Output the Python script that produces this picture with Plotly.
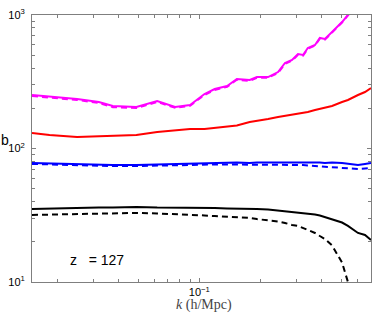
import plotly.graph_objects as go

# wavenumber k (h/Mpc)
k = [0.015, 0.0183, 0.025, 0.032, 0.0375, 0.049, 0.062, 0.076, 0.09, 0.106,
     0.119, 0.137, 0.153, 0.177, 0.192, 0.218, 0.244, 0.264, 0.286, 0.306,
     0.324, 0.342, 0.371, 0.392, 0.415, 0.45, 0.504, 0.539, 0.604, 0.654, 0.70]

magenta_solid = [252, 245, 235, 223, 208, 205, 227, 205, 212, 256,
                 279, 294, 332, 326, 343, 343, 374, 437, 460, 510,
                 502, 566, 596, 673, 661, 746, 886, 1000, 1230, 1410, 1590]
magenta_dash = [247, 241, 231, 219, 204, 201, 223, 202, 209, 252,
                274, 290, 327, 321, 338, 339, 368, 430, 455, 503,
                496, 558, 590, 665, 654, 738, 878, 995, 1220, 1400, 1580]
red_solid = [130.6, 126.2, 122.0, 123.0, 124.1, 126.2, 132.9, 136.4, 140.0, 140.0,
             142.4, 144.9, 148.7, 157.9, 160.7, 166.3, 172.2, 175.2, 178.2, 181.3,
             184.5, 187.7, 194.3, 197.7, 201.1, 208.2, 223.0, 230.8, 251.6, 265.0, 283.9]
blue_solid = [77.9, 77.2, 75.9, 75.9, 75.2, 75.2, 75.9, 76.6, 77.2, 77.9,
              77.9, 77.9, 78.6, 77.9, 78.6, 78.6, 78.6, 79.2, 78.6, 79.2,
              78.6, 79.2, 78.6, 78.6, 77.9, 78.6, 77.9, 77.2, 75.2, 76.6, 77.9]
blue_dash = [76.6, 75.9, 74.6, 74.6, 73.9, 73.9, 74.6, 75.2, 75.9, 75.9,
             75.9, 75.9, 75.9, 75.9, 75.9, 75.9, 75.9, 75.9, 75.2, 75.2,
             75.2, 74.6, 73.9, 73.9, 73.3, 72.7, 71.4, 70.8, 70.2, 70.8, 71.4]
black_solid = [35.2, 35.5, 35.8, 36.1, 36.1, 36.5, 36.1, 36.1, 35.8, 35.8,
               35.8, 35.5, 35.5, 35.2, 35.2, 34.9, 34.3, 34.0, 33.7, 33.4,
               32.9, 32.6, 32.0, 31.5, 30.7, 29.6, 27.9, 26.3, 23.3, 22.5, 20.6]
black_dash = [31.8, 32.0, 32.3, 32.6, 32.6, 32.9, 32.6, 32.3, 31.8, 31.5,
              31.2, 30.9, 30.7, 30.2, 29.6, 29.1, 28.4, 27.7, 26.7, 26.3,
              25.4, 24.5, 23.3, 22.1, 21.0, 18.8, 14.0, 10.0, 6.0, 5.0, 4.0]

x_major = [0.1]
x_major_text = ["10<sup>\u22121</sup>"]
x_minor = [0.02, 0.03, 0.04, 0.05, 0.06, 0.07, 0.08, 0.09, 0.2, 0.3, 0.4, 0.5, 0.6]
y_major = [10, 100, 1000]
y_major_text = ["10<sup>1</sup>", "10<sup>2</sup>", "10<sup>3</sup>"]
y_minor = [20, 30, 40, 50, 60, 70, 80, 90, 200, 300, 400, 500, 600, 700, 800, 900]

series = [
    (black_dash, "#000000", "dash"),
    (black_solid, "#000000", "solid"),
    (blue_dash, "#0000FF", "dash"),
    (blue_solid, "#0000FF", "solid"),
    (red_solid, "#FF0000", "solid"),
    (magenta_dash, "#FF00FF", "dash"),
    (magenta_solid, "#FF00FF", "solid"),
]

fig = go.Figure()
for vals, col, dash in series:
    fig.add_trace(go.Scatter(
        x=k, y=vals, mode="lines",
        line=dict(color=col, width=2, dash="6px,4px" if dash == "dash" else "solid"),
        showlegend=False, hoverinfo="skip"))

axis_common = dict(
    type="log", showgrid=False, zeroline=False, automargin=False,
    showline=True, linecolor="#7f7f7f", linewidth=1, mirror="ticks",
    ticks="inside", ticklen=4, tickcolor="#7f7f7f", tickwidth=1,
    tickfont=dict(family="Liberation Sans, Arial", size=11, color="#000000"),
)

fig.update_xaxes(
    range=[-1.8239, -0.1549], tickmode="array", tickvals=x_major, ticktext=x_major_text,
    minor=dict(tickmode="array", tickvals=x_minor, ticks="inside", ticklen=3,
               tickcolor="#7f7f7f", tickwidth=1),
    **axis_common)
fig.update_yaxes(
    range=[1, 3], tickmode="array", tickvals=y_major, ticktext=y_major_text,
    ticklabelstandoff=4,
    minor=dict(tickmode="array", tickvals=y_minor, ticks="inside", ticklen=3,
               tickcolor="#7f7f7f", tickwidth=1),
    **axis_common)

fig.update_layout(
    width=374, height=319,
    margin=dict(l=32, r=3, t=15, b=37),
    paper_bgcolor="white", plot_bgcolor="white",
    annotations=[
        dict(text="b", x=-0.079, y=0.532, xref="paper", yref="paper",
             xanchor="center", yanchor="middle", showarrow=False,
             font=dict(family="Liberation Sans, Arial", size=14, color="#000000")),
        dict(text="<i>k</i> (h/Mpc)", x=0.508, y=-0.088, xref="paper", yref="paper",
             xanchor="center", yanchor="middle", showarrow=False,
             font=dict(family="Liberation Serif, DejaVu Serif", size=14, color="#444444")),
        dict(text="z   = 127", x=0.105, y=0.082, xref="paper", yref="paper",
             xanchor="left", yanchor="middle", showarrow=False,
             font=dict(family="Liberation Sans, Arial", size=14, color="#000000")),
    ],
)

fig.write_html("out.html", config={"displayModeBar": False},
               post_script="document.body.style.margin='0';")
